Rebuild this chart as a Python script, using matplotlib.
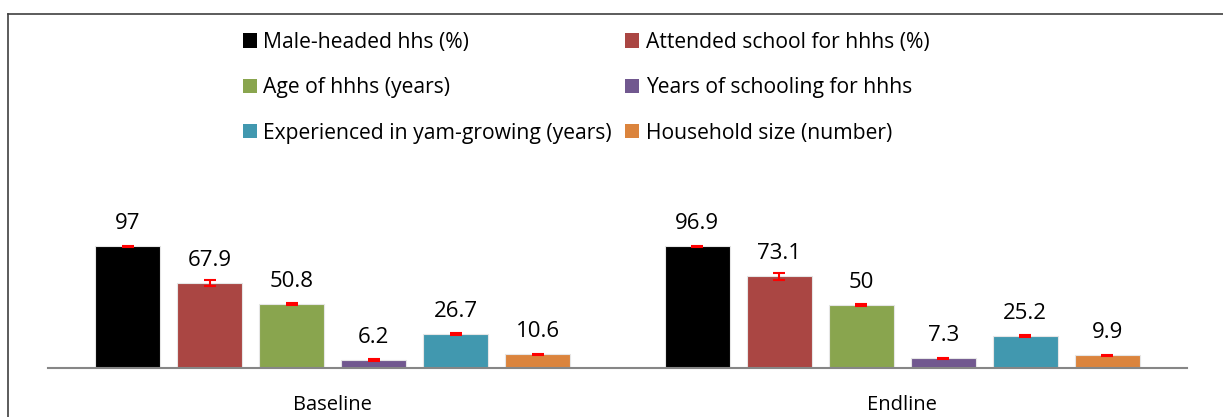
import matplotlib.pyplot as plt
from matplotlib.patches import Patch
from matplotlib.lines import Line2D
import numpy as np

plt.rcParams['font.family'] = ['Open Sans', 'DejaVu Sans']

# data
groups = ["Baseline", "Endline"]
series = ["Male-headed hhs (%)", "Attended school for hhhs (%)", "Age of hhhs (years)",
          "Years of schooling for hhhs", "Experienced in yam-growing (years)", "Household size (number)"]
baseline = [97, 67.9, 50.8, 6.2, 26.7, 10.6]
endline = [96.9, 73.1, 50, 7.3, 25.2, 9.9]
baseline_err = [0.3, 2.5, 0.5, 0.6, 0.6, 0.6]
endline_err = [0.3, 2.8, 0.5, 0.6, 0.6, 0.5]
labels_base = ["97", "67.9", "50.8", "6.2", "26.7", "10.6"]
labels_end = ["96.9", "73.1", "50", "7.3", "25.2", "9.9"]

colors = ["#000000", "#AA4643", "#89A54E", "#71588F", "#4198AF", "#DB843D"]

fig = plt.figure(figsize=(12.23, 4.17), dpi=100)
ax = fig.add_axes([48/1223, 49.5/417, 1139/1223, 150/417])

x = np.arange(len(groups))
step = 0.144
width = 0.114

for i in range(len(series)):
    vals = [baseline[i], endline[i]]
    errs = [baseline_err[i], endline_err[i]]
    pos = x + (i - 2.5) * step
    ax.bar(pos, vals, width, color=colors[i], edgecolor="#e6e6e6", linewidth=0.8,
           yerr=errs, error_kw=dict(ecolor="red", elinewidth=1.5, capsize=4.3, capthick=1.5))
    for j, txt in enumerate([labels_base[i], labels_end[i]]):
        ax.annotate(txt, (pos[j], vals[j]), xytext=(0, 12.2), textcoords="offset points",
                    ha="center", va="baseline", fontsize=16)

ax.set_xlim(-0.5, 1.5)
ax.set_ylim(0, 120)
ax.set_yticks([])
ax.set_xticks(x)
ax.set_xticklabels(groups, fontsize=14.5)
ax.tick_params(axis="x", length=0, pad=20)
for s in ["top", "right", "left"]:
    ax.spines[s].set_visible(False)
ax.spines["bottom"].set_color("#868686")
ax.spines["bottom"].set_linewidth(1.5)

# legend, filled column-wise
order = [0, 2, 4, 1, 3, 5]
handles = [Patch(facecolor=colors[k], edgecolor="none") for k in order]
fig.legend(handles, [series[k] for k in order], ncol=2, frameon=False,
           loc="upper left", bbox_to_anchor=(243/1223, 1 - 32/417),
           fontsize=15.2, handlelength=0.67, handleheight=0.67, handletextpad=0.3,
           labelspacing=1.15, columnspacing=0.62, borderpad=0, borderaxespad=0)

# chart border
fig.add_artist(Line2D([8/1223, 8/1223], [0, 1 - 14/417], color="#404040", linewidth=1.2))
fig.add_artist(Line2D([8/1223, 1], [1 - 14/417, 1 - 14/417], color="#404040", linewidth=1.2))

fig.savefig("out.png", dpi=100)
